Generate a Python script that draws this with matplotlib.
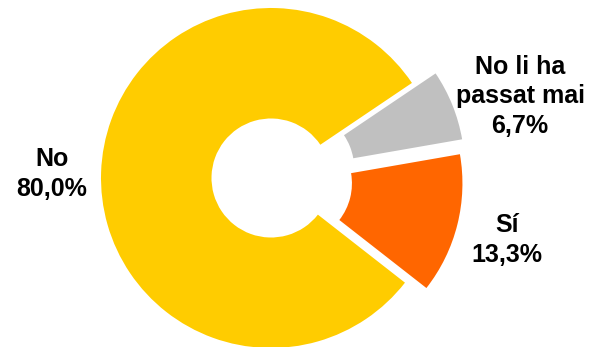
import matplotlib
matplotlib.use("Agg")
import matplotlib.pyplot as plt

labels = ["Sí", "No li ha\npassat mai", "No"]
values = [13.3, 6.7, 80.0]
colors = ["#FF6600", "#C0C0C0", "#FFCC00"]
explode = [0.13, 0.15, 0.0]

W, H = 591, 347
fig = plt.figure(figsize=(W / 100, H / 100), dpi=100)
ax = fig.add_axes([0, 0, 1, 1])
ax.axis("off")

# pixel -> data mapping (center of doughnut at (271,178) px, radius 170 px)
cx, cy, R = 271, 178, 170

ax.pie(values, colors=colors, explode=explode, startangle=-38,
       counterclock=True, radius=1.0,
       wedgeprops=dict(width=0.65, linewidth=0), frame=True)
ax.set_xlim(-cx / R, (W - cx) / R)
ax.set_ylim(-(H - cy) / R, cy / R)
ax.set_aspect("auto")
ax.axis("off")

def px(x, y):
    return (x - cx) / R, (cy - y) / R

pct = [f"{v:.1f}".replace(".", ",") + "%" for v in values]
# last-line baseline positions (pixels)
label_pos = [(507, 262), (520, 133), (52, 196)]
for lab, p, (x, y) in zip(labels, pct, label_pos):
    dx, dy = px(x, y)
    ax.text(dx, dy, f"{lab}\n{p}", ha="center", va="baseline",
            fontsize=18, fontweight="bold", family="Liberation Sans",
            linespacing=1.3, color="black")

fig.savefig("out.png", dpi=100)
